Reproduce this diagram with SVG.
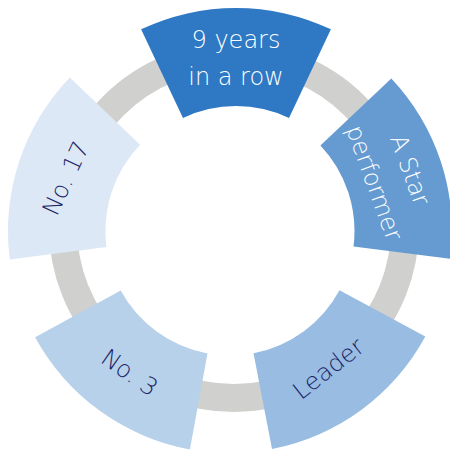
<svg xmlns="http://www.w3.org/2000/svg" width="450" height="450" viewBox="0 0 450 450">
<style>
.lbl{font-family:"DejaVu Sans","Lato",sans-serif;font-weight:200;font-size:24px;text-anchor:middle}
.w{fill:#ffffff}
.d{fill:#1c2566}
</style>
<rect width="450" height="450" fill="#ffffff"/>
<g id="ring">
<circle cx="234" cy="227" r="171" fill="none" stroke="#d0d0ce" stroke-width="28"/>
</g>
<g id="connectors"></g>
<g id="seg-top">
<path d="M141.1 29.3 A222 222 0 0 1 330.9 29.3 L289 117.9 A124 124 0 0 0 183 117.9 Z" fill="#2e78c4"/>
<text class="lbl w" x="236" y="48">9 years</text>
<text class="lbl w" x="236" y="85">in a row</text>
</g>
<g id="seg-star">
<path d="M391.3 78.5 A222 222 0 0 1 450.2 258.8 L353.5 246.6 A124.5 124.5 0 0 0 320.4 145.5 Z" fill="#659bd1"/>
<g transform="translate(393 176) rotate(70)">
<text class="lbl w" x="0" y="-10">A Star</text>
<text class="lbl w" x="0" y="28">performer</text>
</g>
</g>
<g id="seg-leader">
<path d="M425.3 336.6 A222 222 0 0 1 272 449 L253.5 353.3 A124.5 124.5 0 0 0 339.5 290.2 Z" fill="#99bce2"/>
<text class="lbl d" transform="translate(328 368) rotate(-38)" x="0" y="9">Leader</text>
</g>
<g id="seg-no3">
<path d="M189.9 449.4 A222 222 0 0 1 35.1 337.3 L120.7 290.6 A124.5 124.5 0 0 0 207.5 353.5 Z" fill="#b7d1eb"/>
<text class="lbl d" transform="translate(130 372) rotate(35)" x="0" y="9">No. 3</text>
</g>
<g id="seg-no17">
<path d="M9.8 259.6 A222 222 0 0 1 69.8 77.4 L140.1 144.8 A124.5 124.5 0 0 0 106.5 247 Z" fill="#dce8f5"/>
<text class="lbl d" transform="translate(65 178) rotate(-65)" x="0" y="9">No. 17</text>
</g>
</svg>
